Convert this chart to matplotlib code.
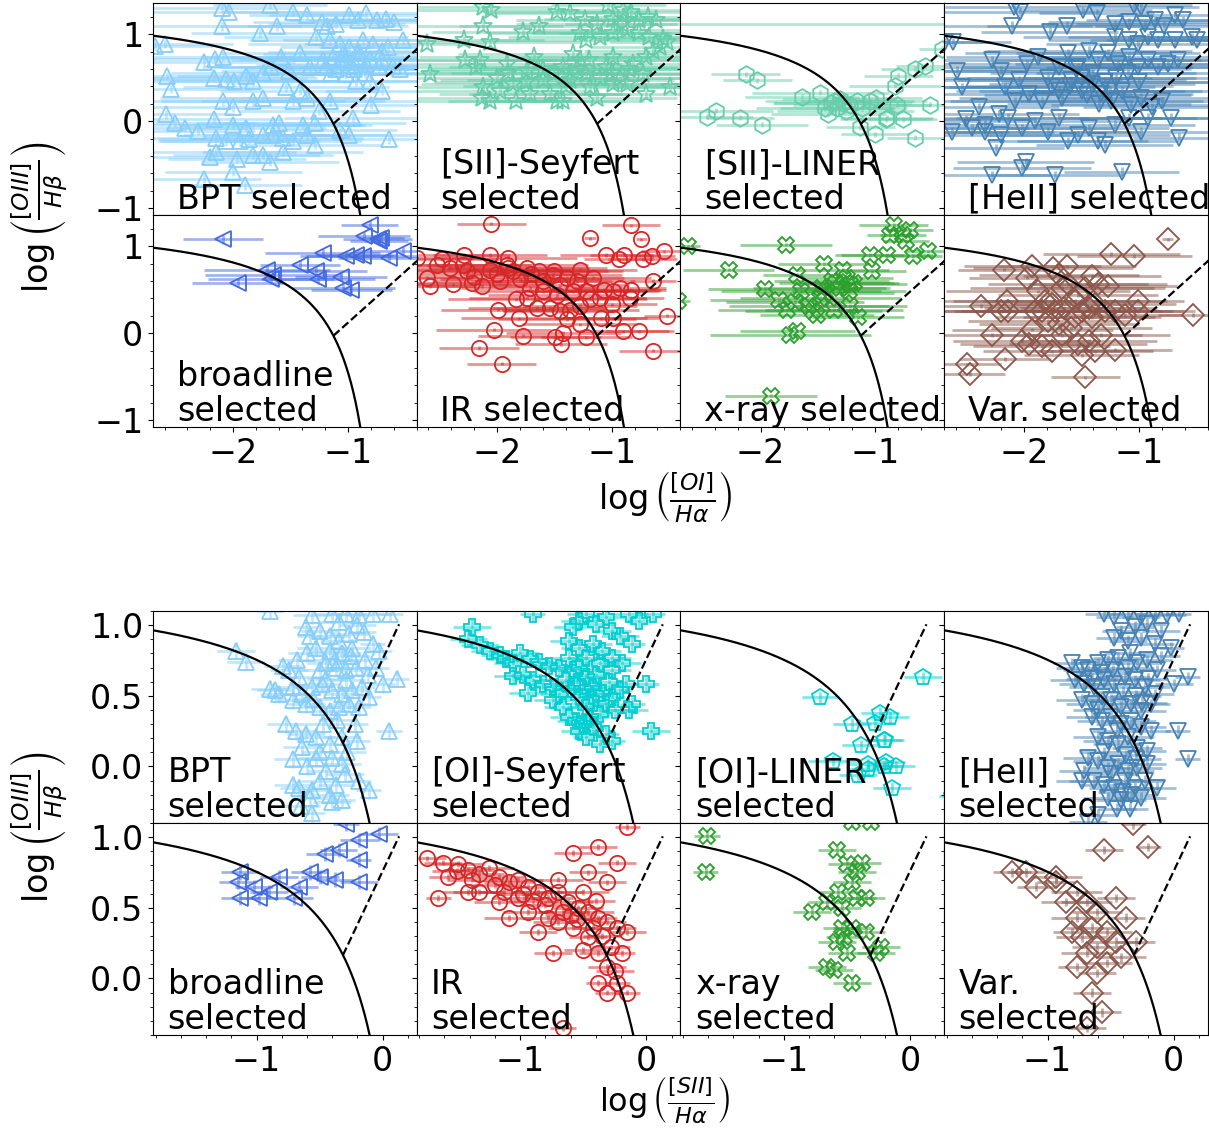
import numpy as np
import matplotlib.pyplot as plt
from matplotlib.colors import to_rgba
from matplotlib.ticker import MultipleLocator, AutoMinorLocator

plt.rcParams['font.size'] = 24

# ---------------- [OI]/Halpha diagram: rows are (x, y, x error) ----------------
oi_bpt = np.array([
    (-2.10, 1.30, 0.6), (-2.04, 1.26, 0.7), (-1.68, 1.34, 0.5), (-1.48, 1.26, 0.6), (-1.36, 1.22, 0.5),
    (-2.10, 1.09, 0.7), (-1.77, 1.01, 0.6), (-1.62, 1.09, 0.5), (-2.68, 0.87, 0.5), (-2.60, 0.89, 0.6),
    (-2.58, 0.52, 0.8), (-2.54, 0.37, 0.7), (-2.59, 0.08, 0.6), (-2.51, -0.02, 0.7), (-2.42, -0.08, 0.6),
    (-2.31, -0.11, 0.5), (-2.26, 0.68, 0.8), (-2.16, 0.72, 0.7), (-2.09, 0.74, 0.6), (-2.17, 0.50, 0.9),
    (-2.06, 0.48, 0.7), (-1.99, 0.46, 0.8), (-1.89, 0.52, 0.6), (-1.83, 0.46, 0.7), (-1.74, 0.56, 0.8),
    (-1.67, 0.62, 0.6), (-1.58, 0.74, 0.7), (-1.51, 0.58, 0.6), (-1.42, 0.79, 0.7), (-1.33, 0.62, 0.8),
    (-1.23, 1.14, 0.6), (-1.18, 1.09, 0.7), (-1.10, 1.12, 0.6), (-0.99, 1.22, 0.7), (-0.91, 1.16, 0.6),
    (-0.84, 1.24, 0.5), (-0.75, 1.16, 0.6), (-0.67, 1.18, 0.5), (-0.60, 1.14, 0.6), (-0.52, 0.93, 0.7),
    (-1.28, 0.97, 0.8), (-1.16, 0.93, 0.7), (-1.07, 0.89, 0.8), (-0.99, 0.85, 0.6), (-0.87, 0.93, 0.7),
    (-0.78, 0.89, 0.6), (-0.70, 0.81, 0.7), (-0.96, 0.70, 0.8), (-0.84, 0.66, 0.9), (-0.73, 0.62, 0.7),
    (-0.61, 0.64, 0.6), (-0.55, 0.60, 0.5), (-1.22, 0.70, 0.8), (-1.13, 0.74, 0.9), (-1.04, 0.77, 0.7),
    (-0.90, 0.74, 0.8), (-0.81, 0.72, 0.7), (-1.19, 0.62, 0.9), (-1.10, 0.60, 0.8), (-1.02, 0.54, 0.7),
    (-0.93, 0.46, 0.8), (-0.81, 0.46, 0.6), (-0.70, 0.35, 0.5), (-0.80, 0.19, 0.4), (-0.96, 0.04, 0.6),
    (-1.07, -0.10, 0.5), (-0.99, -0.16, 0.6), (-0.64, -0.21, 0.5), (-1.25, 0.12, 0.7), (-1.16, 0.23, 0.8),
    (-1.36, 0.27, 0.7), (-1.48, 0.23, 0.8), (-1.54, 0.39, 0.9), (-1.42, 0.35, 0.7), (-2.09, 0.23, 0.8),
    (-2.00, 0.16, 0.7), (-1.83, 0.23, 0.8), (-1.74, 0.27, 0.9), (-2.17, 0.02, 0.6), (-2.00, -0.04, 0.8),
    (-1.89, -0.08, 0.7), (-1.65, -0.04, 0.8), (-1.60, -0.02, 0.7), (-1.39, -0.04, 0.6), (-1.29, -0.02, 0.8),
    (-2.15, -0.19, 0.7), (-2.06, -0.23, 0.6), (-1.94, -0.23, 0.7), (-1.86, -0.21, 0.8), (-1.74, -0.16, 0.7),
    (-1.65, -0.16, 0.6), (-1.57, -0.19, 0.7), (-1.48, -0.23, 0.6), (-1.36, -0.16, 0.7), (-1.29, -0.27, 0.6),
    (-2.20, -0.41, 0.6), (-2.15, -0.35, 0.7), (-1.97, -0.43, 0.6), (-1.83, -0.39, 0.7), (-1.74, -0.39, 0.5),
    (-1.68, -0.47, 0.6), (-1.57, -0.35, 0.7), (-2.26, -0.66, 0.5), (-2.00, -0.58, 0.6), (-1.90, -0.74, 0.5),
    (-1.00, 0.65, 0.8), (-0.95, 0.60, 0.7), (-1.15, 0.55, 0.8), (-0.85, 0.55, 0.7), (-0.70, 0.70, 0.6),
    (-1.05, 0.72, 0.9), (-0.90, 0.80, 0.8), (-0.65, 0.85, 0.6),
])
oi_bpt_x, oi_bpt_y, oi_bpt_xerr = oi_bpt.T

oi_sii_sey = np.array([
    (-2.12, 1.32, 0.6), (-2.05, 1.28, 0.7), (-1.48, 1.26, 0.6), (-1.36, 1.24, 0.7), (-1.03, 1.34, 0.5),
    (-0.90, 1.28, 0.6), (-0.83, 1.26, 0.5), (-2.12, 1.10, 0.7), (-1.77, 1.03, 0.8), (-1.63, 1.09, 0.7),
    (-1.23, 1.16, 0.6), (-1.13, 1.12, 0.7), (-0.99, 1.18, 0.6), (-0.91, 1.12, 0.5), (-0.76, 1.16, 0.6),
    (-0.68, 1.20, 0.5), (-0.61, 1.16, 0.6), (-1.28, 1.01, 0.8), (-1.22, 0.93, 0.9), (-1.10, 0.97, 0.8),
    (-0.99, 1.01, 0.7), (-0.87, 1.05, 0.8), (-0.76, 1.01, 0.7), (-0.67, 0.97, 0.6), (-0.55, 0.95, 0.6),
    (-2.61, 0.89, 0.5), (-2.29, 0.93, 0.7), (-2.06, 0.91, 0.8), (-0.52, 0.91, 0.5), (-2.58, 0.54, 0.6),
    (-2.28, 0.70, 0.8), (-2.18, 0.62, 0.9), (-2.12, 0.39, 0.7), (-2.13, 0.27, 0.6), (-2.06, 0.23, 0.7),
    (-2.00, 0.50, 0.9), (-1.91, 0.66, 1.0), (-1.86, 0.43, 0.8), (-1.83, 0.23, 0.6), (-1.74, 0.58, 0.9),
    (-1.68, 0.74, 1.0), (-1.60, 0.47, 0.9), (-1.54, 0.31, 0.7), (-1.48, 0.23, 0.6), (-1.42, 0.62, 1.0),
    (-1.36, 0.47, 0.9), (-1.34, 0.77, 1.0), (-1.28, 0.70, 0.9), (-1.22, 0.54, 0.9), (-1.19, 0.39, 0.8),
    (-1.13, 0.27, 0.7), (-1.05, 0.62, 0.9), (-0.99, 0.74, 0.8), (-0.93, 0.50, 0.8), (-0.87, 0.43, 0.7),
    (-0.81, 0.66, 0.8), (-0.73, 0.54, 0.7), (-0.70, 0.74, 0.7), (-0.64, 0.81, 0.6), (-0.58, 0.85, 0.6),
    (-0.49, 0.39, 0.5), (-0.70, 0.31, 0.6), (-2.15, 0.70, 0.9), (-1.97, 0.35, 0.8), (-1.71, 0.31, 0.8),
    (-1.42, 0.23, 0.7), (-0.99, 0.43, 0.8), (-1.60, 0.60, 1.0), (-1.50, 0.55, 0.9), (-1.30, 0.60, 0.9),
    (-1.20, 0.70, 0.8), (-1.90, 0.55, 0.9), (-1.75, 0.45, 0.8), (-1.10, 0.50, 0.8), (-1.40, 0.40, 0.9),
    (-1.00, 0.55, 0.7), (-0.85, 0.60, 0.7),
])
oi_sii_sey_x, oi_sii_sey_y, oi_sii_sey_xerr = oi_sii_sey.T

oi_sii_lin = np.array([
    (-0.30, 1.12, 2.5),
    (-2.13, 0.54, 0.3), (-2.03, 0.47, 0.3), (-2.39, 0.12, 0.5), (-2.47, 0.05, 0.4), (-2.18, 0.04, 0.3),
    (-1.99, -0.04, 0.4), (-1.64, 0.28, 0.5), (-1.48, 0.33, 0.6), (-1.44, 0.15, 0.6), (-1.41, 0.08, 0.5),
    (-1.36, 0.23, 0.6), (-1.31, 0.25, 0.5), (-1.26, 0.12, 0.6), (-1.22, 0.19, 0.5), (-1.16, 0.23, 0.5),
    (-1.12, 0.15, 0.4), (-1.05, 0.23, 0.5), (-0.99, 0.27, 0.4), (-1.13, -0.07, 0.3), (-1.00, -0.15, 0.3),
    (-0.91, 0.02, 0.4), (-0.90, 0.04, 0.4), (-0.81, 0.19, 0.3), (-0.76, 0.02, 0.3), (-0.65, -0.19, 0.25),
    (-0.52, 0.19, 0.3), (-0.83, 0.41, 0.4), (-0.80, 0.52, 0.3), (-0.65, 0.60, 0.3), (-0.57, 0.64, 0.25),
    (-0.42, 0.83, 0.2), (-1.39, 0.21, 0.5), (-1.33, 0.15, 0.5), (-1.28, 0.21, 0.6),
])
oi_sii_lin_x, oi_sii_lin_y, oi_sii_lin_xerr = oi_sii_lin.T

oi_heii = np.array([
    (-2.09, 1.32, 0.6), (-2.04, 1.26, 0.7), (-1.49, 1.28, 0.6), (-1.37, 1.24, 0.5), (-1.04, 1.34, 0.5),
    (-0.98, 1.32, 0.5), (-2.11, 1.10, 0.7), (-1.78, 1.03, 0.6), (-1.63, 1.10, 0.7), (-1.21, 1.12, 0.6),
    (-1.09, 1.14, 0.7), (-0.95, 1.12, 0.6), (-0.86, 1.16, 0.6), (-0.69, 1.22, 0.5), (-0.62, 1.16, 0.5),
    (-0.78, 1.10, 0.6), (-2.62, 0.91, 0.5), (-2.69, 0.91, 0.4), (-0.92, 0.97, 0.7), (-0.83, 0.93, 0.6),
    (-0.69, 0.93, 0.6), (-0.54, 0.97, 0.5), (-0.49, 0.93, 0.5), (-1.21, 0.97, 0.8), (-1.09, 0.93, 0.7),
    (-1.01, 0.89, 0.8), (-2.59, 0.58, 0.6), (-2.54, 0.39, 0.6), (-2.63, -0.12, 0.5), (-2.51, 0.02, 0.6),
    (-2.40, 0.16, 0.7), (-2.34, -0.04, 0.6), (-2.22, 0.08, 0.7), (-2.28, 0.70, 0.8), (-2.20, 0.58, 0.8),
    (-2.05, 0.47, 0.9), (-1.98, 0.66, 0.9), (-1.88, 0.74, 0.8), (-1.79, 0.50, 0.9), (-1.70, 0.62, 1.0),
    (-1.62, 0.78, 0.9), (-1.53, 0.62, 1.0), (-1.44, 0.81, 0.9), (-1.36, 0.70, 0.9), (-1.27, 0.78, 0.8),
    (-1.18, 0.66, 0.9), (-1.09, 0.74, 0.8), (-1.01, 0.62, 0.8), (-0.92, 0.70, 0.7), (-0.83, 0.62, 0.7),
    (-0.75, 0.66, 0.6), (-0.66, 0.70, 0.6), (-2.17, 0.39, 0.8), (-2.08, 0.23, 0.7), (-1.96, 0.31, 0.9),
    (-1.85, 0.23, 0.8), (-1.76, 0.39, 0.9), (-1.67, 0.27, 0.9), (-1.59, 0.47, 1.0), (-1.50, 0.35, 0.9),
    (-1.41, 0.43, 0.9), (-1.33, 0.31, 0.8), (-1.24, 0.23, 0.8), (-1.15, 0.35, 0.8), (-1.07, 0.19, 0.7),
    (-0.98, 0.27, 0.7), (-0.89, 0.16, 0.6), (-0.80, 0.23, 0.6), (-0.72, 0.04, 0.5), (-2.14, 0.04, 0.7),
    (-2.02, -0.08, 0.8), (-1.91, 0.00, 0.8), (-1.79, -0.12, 0.8), (-1.70, 0.04, 0.9), (-1.62, -0.23, 0.7),
    (-1.53, -0.16, 0.8), (-1.44, -0.08, 0.7), (-1.36, -0.23, 0.7), (-1.30, -0.27, 0.6), (-1.21, -0.04, 0.7),
    (-1.09, 0.04, 0.6), (-0.98, -0.12, 0.6), (-0.92, 0.04, 0.6), (-0.65, -0.19, 0.4), (-2.25, -0.31, 0.6),
    (-2.20, -0.16, 0.7), (-1.99, -0.47, 0.6), (-2.28, -0.62, 0.5), (-2.02, -0.54, 0.6), (-1.73, -0.62, 0.6),
    (-1.15, -0.58, 0.5), (-2.34, -0.12, 0.6), (-2.46, -0.08, 0.5), (-1.50, 0.50, 1.0), (-1.40, 0.55, 0.9),
    (-1.30, 0.45, 0.9), (-1.20, 0.50, 0.8), (-1.60, 0.40, 0.9), (-1.70, 0.35, 0.9), (-1.35, 0.20, 0.8),
    (-1.25, 0.35, 0.8), (-1.45, 0.30, 0.9), (-1.55, 0.60, 1.0), (-1.10, 0.55, 0.8), (-1.00, 0.45, 0.7),
])
oi_heii_x, oi_heii_y, oi_heii_xerr = oi_heii.T

oi_broad = np.array([
    (-2.09, 1.08, 0.35), (-0.81, 1.25, 0.25), (-0.86, 1.12, 0.40), (-0.74, 1.08, 0.30), (-0.71, 1.10, 0.20),
    (-0.73, 1.06, 0.25), (-0.52, 0.94, 0.40), (-0.64, 0.87, 0.45), (-0.87, 0.89, 0.50), (-1.02, 0.89, 0.40),
    (-0.93, 0.90, 0.35), (-1.22, 0.92, 0.50), (-1.42, 0.79, 0.35), (-1.71, 0.73, 0.55), (-1.65, 0.67, 0.60),
    (-1.67, 0.62, 0.55), (-1.96, 0.58, 0.40), (-1.28, 0.71, 0.45), (-1.26, 0.62, 0.50), (-1.06, 0.65, 0.40),
    (-1.04, 0.52, 0.45), (-0.97, 0.50, 0.35),
])
oi_broad_x, oi_broad_y, oi_broad_xerr = oi_broad.T

oi_ir = np.array([
    (-2.05, 1.26, 0.30), (-0.83, 1.24, 0.25), (-0.74, 1.08, 0.05), (-1.19, 1.09, 0.05), (-2.29, 0.90, 0.40),
    (-2.06, 0.90, 0.50), (-1.90, 0.87, 0.60), (-2.70, 0.87, 0.50), (-2.48, 0.85, 0.50), (-2.61, 0.64, 0.40),
    (-2.58, 0.54, 0.40), (-2.38, 0.56, 0.50), (-2.22, 0.58, 0.60), (-2.13, 0.54, 0.50), (-1.97, 0.60, 0.60),
    (-1.86, 0.71, 0.70), (-1.74, 0.75, 0.70), (-1.63, 0.71, 0.60), (-1.51, 0.67, 0.60), (-1.39, 0.64, 0.50),
    (-1.28, 0.73, 0.50), (-1.16, 0.64, 0.50), (-1.05, 0.90, 0.40), (-0.94, 0.85, 0.30), (-0.89, 0.90, 0.30),
    (-0.73, 0.85, 0.30), (-0.65, 0.89, 0.20), (-0.54, 0.94, 0.20), (-1.07, 0.50, 0.50), (-0.99, 0.48, 0.40),
    (-0.93, 0.52, 0.40), (-0.83, 0.50, 0.30), (-0.84, 0.41, 0.30), (-0.64, 0.60, 0.20), (-1.83, 0.39, 0.60),
    (-1.74, 0.41, 0.50), (-1.65, 0.29, 0.60), (-1.54, 0.29, 0.50), (-1.45, 0.25, 0.50), (-1.36, 0.27, 0.60),
    (-1.28, 0.31, 0.50), (-1.19, 0.39, 0.50), (-1.10, 0.41, 0.40), (-1.00, 0.33, 0.40), (-1.99, 0.27, 0.50),
    (-1.81, 0.17, 0.50), (-1.39, 0.16, 0.60), (-1.28, 0.10, 0.50), (-1.09, 0.17, 0.40), (-0.99, 0.17, 0.40),
    (-0.90, 0.02, 0.40), (-0.76, 0.02, 0.30), (-0.52, 0.20, 0.20), (-2.03, 0.04, 0.50), (-1.77, -0.03, 0.40),
    (-1.49, -0.05, 0.40), (-1.42, 0.00, 0.50), (-1.44, -0.13, 0.40), (-1.22, -0.05, 0.40), (-0.64, -0.20, 0.30),
    (-2.16, -0.17, 0.35), (-1.96, -0.35, 0.30), (-2.52, 0.79, 0.50), (-2.41, 0.75, 0.60), (-2.26, 0.71, 0.60),
    (-2.06, 0.73, 0.70), (-1.91, 0.79, 0.70), (-1.71, 0.52, 0.60), (-1.60, 0.48, 0.60), (-1.48, 0.44, 0.60),
    (-1.34, 0.48, 0.50), (-1.22, 0.48, 0.50), (-2.30, 0.78, 0.60), (-2.00, 0.68, 0.70), (-1.80, 0.62, 0.70),
    (-1.60, 0.60, 0.60), (-1.45, 0.55, 0.60), (-1.30, 0.60, 0.50), (-2.20, 0.65, 0.70), (-1.90, 0.75, 0.70),
    (-1.70, 0.68, 0.60), (-1.50, 0.72, 0.60),
])
oi_ir_x, oi_ir_y, oi_ir_xerr = oi_ir.T

oi_xray = np.array([
    (-2.63, 1.00, 0.10), (-1.78, 1.02, 0.40), (-2.28, 0.73, 0.40), (-1.68, 0.67, 0.30), (-1.45, 0.80, 0.40),
    (-1.96, 0.51, 0.50), (-1.84, 0.38, 0.60), (-1.77, 0.27, 0.60), (-1.65, 0.48, 0.70), (-1.70, 0.36, 0.60),
    (-1.58, 0.31, 0.70), (-1.54, 0.25, 0.60), (-1.51, 0.21, 0.50), (-1.47, 0.52, 0.60), (-1.48, 0.41, 0.70),
    (-1.44, 0.46, 0.60), (-1.38, 0.60, 0.50), (-1.34, 0.58, 0.50), (-1.31, 0.52, 0.40), (-1.28, 0.73, 0.40),
    (-1.25, 0.64, 0.40), (-1.22, 0.56, 0.50), (-1.19, 0.58, 0.40), (-1.23, 0.48, 0.50), (-1.36, 0.27, 0.60),
    (-1.22, 0.31, 0.50), (-1.15, 0.18, 0.40), (-1.05, 0.90, 0.30), (-0.90, 0.90, 0.40), (-1.03, 0.71, 0.30),
    (-0.84, 1.25, 0.30), (-0.87, 1.13, 0.20), (-0.76, 1.13, 0.20), (-0.73, 1.06, 0.20), (-0.70, 1.19, 0.20),
    (-0.67, 0.89, 0.25), (-0.54, 0.94, 0.20), (-1.74, -0.02, 0.70), (-1.68, 0.02, 0.50), (-1.91, -0.72, 0.40),
    (-2.72, 0.37, 0.10),
])
oi_xray_x, oi_xray_y, oi_xray_xerr = oi_xray.T

oi_var = np.array([
    (-0.75, 1.08, 0.05), (-1.24, 0.91, 0.60), (-1.04, 0.89, 0.50), (-2.18, 0.73, 0.40), (-1.98, 0.64, 0.50),
    (-1.93, 0.77, 0.60), (-1.75, 0.75, 0.70), (-1.63, 0.77, 0.60), (-1.70, 0.67, 0.70), (-1.41, 0.66, 0.60),
    (-1.27, 0.54, 0.60), (-2.38, 0.31, 0.50), (-2.15, 0.37, 0.60), (-2.14, 0.25, 0.60), (-2.20, 0.25, 0.50),
    (-1.88, 0.48, 0.80), (-1.82, 0.37, 0.80), (-1.76, 0.33, 0.70), (-1.67, 0.52, 0.80), (-1.62, 0.56, 0.70),
    (-1.53, 0.44, 0.70), (-1.47, 0.52, 0.70), (-1.36, 0.56, 0.60), (-1.85, 0.25, 0.70), (-1.73, 0.25, 0.70),
    (-1.65, 0.29, 0.70), (-1.56, 0.37, 0.80), (-1.50, 0.25, 0.70), (-1.44, 0.29, 0.60), (-1.38, 0.33, 0.70),
    (-1.30, 0.25, 0.60), (-1.21, 0.25, 0.60), (-1.12, 0.21, 0.50), (-1.01, 0.37, 0.40), (-1.01, 0.25, 0.50),
    (-0.53, 0.21, 0.30), (-2.28, -0.02, 0.50), (-1.93, 0.04, 0.70), (-2.02, -0.09, 0.60), (-1.96, -0.13, 0.60),
    (-1.85, -0.15, 0.60), (-1.76, -0.21, 0.60), (-1.67, -0.02, 0.70), (-1.59, 0.06, 0.70), (-1.53, -0.13, 0.60),
    (-1.44, -0.09, 0.60), (-1.38, -0.21, 0.50), (-1.33, -0.02, 0.60), (-1.21, -0.19, 0.50), (-1.50, -0.25, 0.50),
    (-2.17, -0.30, 0.40), (-2.50, -0.36, 0.30), (-2.47, -0.47, 0.30), (-1.47, -0.51, 0.30), (-1.91, 0.25, 0.70),
    (-1.79, 0.14, 0.70), (-1.70, 0.10, 0.70), (-1.56, 0.18, 0.70), (-1.41, 0.18, 0.60),
])
oi_var_x, oi_var_y, oi_var_xerr = oi_var.T

# ---------------- [SII]/Halpha diagram: rows are (x, y, x error) ----------------
sii_bpt = np.array([
    (-1.16, 0.82, 0.15), (-1.08, 0.74, 0.15), (-0.89, 1.10, 0.10), (-0.56, 1.07, 0.15), (-0.40, 1.08, 0.15),
    (-0.29, 1.08, 0.15), (-0.19, 1.07, 0.10), (-0.08, 1.08, 0.15), (0.06, 1.08, 0.10), (0.11, 0.62, 0.10),
    (0.05, 0.25, 0.10), (0.00, 0.58, 0.10), (-0.08, 0.87, 0.10), (-0.03, 0.82, 0.10), (-0.14, 0.75, 0.15),
    (-0.21, 0.70, 0.15), (-0.29, 0.68, 0.15), (-0.37, 0.70, 0.15), (-0.45, 0.73, 0.15), (-0.50, 0.68, 0.15),
    (-0.42, 0.92, 0.15), (-0.35, 0.89, 0.15), (-0.27, 0.94, 0.15), (-0.24, 0.84, 0.15), (-0.32, 0.80, 0.15),
    (-0.42, 0.82, 0.15), (-0.53, 0.84, 0.15), (-0.58, 0.92, 0.10), (-0.61, 0.99, 0.10), (-0.50, 0.96, 0.15),
    (-0.79, 0.71, 0.15), (-0.74, 0.68, 0.15), (-0.89, 0.55, 0.15), (-0.82, 0.51, 0.15), (-0.71, 0.56, 0.15),
    (-0.64, 0.51, 0.15), (-0.56, 0.56, 0.15), (-0.48, 0.58, 0.15), (-0.40, 0.54, 0.15), (-0.32, 0.51, 0.15),
    (-0.24, 0.54, 0.15), (-0.16, 0.56, 0.10), (-0.11, 0.49, 0.10), (-0.19, 0.42, 0.10), (-0.27, 0.44, 0.15),
    (-0.35, 0.42, 0.15), (-0.42, 0.39, 0.15), (-0.50, 0.42, 0.15), (-0.61, 0.44, 0.15), (-0.71, 0.47, 0.15),
    (-0.77, 0.30, 0.15), (-0.69, 0.25, 0.15), (-0.61, 0.23, 0.15), (-0.53, 0.21, 0.15), (-0.42, 0.16, 0.15),
    (-0.32, 0.21, 0.15), (-0.20, 0.18, 0.10), (-0.64, 0.14, 0.15), (-0.71, 0.05, 0.15), (-0.53, 0.06, 0.15),
    (-0.40, 0.06, 0.15), (-0.32, 0.02, 0.15), (-0.45, -0.03, 0.15), (-0.50, -0.10, 0.15), (-0.56, -0.17, 0.15),
    (-0.37, -0.13, 0.15), (-0.66, -0.15, 0.15), (-0.71, -0.13, 0.15), (-0.58, -0.22, 0.15), (-0.42, -0.20, 0.15),
    (-0.32, -0.24, 0.10), (-0.11, -0.17, 0.10), (-0.19, -0.10, 0.10), (-0.56, -0.33, 0.10), (-0.85, 0.54, 0.15),
    (-0.66, 0.63, 0.15), (-0.29, 0.61, 0.15), (-0.60, 0.80, 0.15), (-0.45, 0.62, 0.15), (-0.38, 0.75, 0.15),
    (-0.25, 0.78, 0.15), (-0.15, 0.95, 0.10), (-0.05, 0.70, 0.10), (-0.55, 0.48, 0.15), (-0.47, 0.30, 0.15),
    (-0.36, 0.33, 0.15), (-0.28, 0.10, 0.15), (-0.60, 0.00, 0.15), (-0.50, 0.10, 0.15), (-0.40, -0.25, 0.15),
    (-0.65, -0.28, 0.15), (-0.30, -0.05, 0.15), (-0.22, 0.30, 0.10), (-0.12, 0.65, 0.10), (-0.68, 0.75, 0.15),
    (-0.20, 1.00, 0.15), (-0.35, 1.02, 0.15),
])
sii_bpt_x, sii_bpt_y, sii_bpt_xerr = sii_bpt.T

sii_oi_sey = np.array([
    (-1.38, 0.99, 0.15), (-1.41, 0.90, 0.15), (-1.32, 0.86, 0.15), (-1.24, 0.82, 0.15), (-1.16, 0.79, 0.15),
    (-1.11, 0.76, 0.15), (-1.06, 0.73, 0.15), (-1.00, 0.80, 0.15), (-0.92, 0.76, 0.15), (-0.85, 0.74, 0.15),
    (-0.77, 0.71, 0.15), (-0.94, 0.52, 0.15), (-1.06, 0.64, 0.15), (-0.98, 0.65, 0.15), (-0.90, 0.61, 0.15),
    (-0.82, 0.58, 0.15), (-0.74, 0.56, 0.15), (-0.69, 0.51, 0.15), (-0.64, 0.61, 0.15), (-0.58, 0.68, 0.15),
    (-0.53, 0.70, 0.15), (-0.48, 0.63, 0.15), (-0.42, 0.56, 0.15), (-0.74, 0.47, 0.15), (-0.66, 0.42, 0.15),
    (-0.61, 0.35, 0.15), (-0.56, 0.32, 0.15), (-0.53, 0.25, 0.15), (-0.48, 0.21, 0.10), (-0.42, 0.28, 0.10),
    (-0.37, 0.37, 0.10), (-0.32, 0.44, 0.10), (-0.27, 0.49, 0.10), (-0.21, 0.54, 0.10), (-0.16, 0.58, 0.10),
    (-0.14, 0.40, 0.15), (-0.11, 0.44, 0.10), (0.00, 0.58, 0.10), (0.04, 0.25, 0.15), (-0.37, 0.16, 0.10),
    (-0.27, 0.18, 0.10), (-0.32, 0.23, 0.10), (-0.53, 0.49, 0.15), (-0.48, 0.42, 0.15), (-0.40, 0.51, 0.15),
    (-0.58, 0.99, 0.15), (-0.53, 1.03, 0.15), (-0.48, 1.08, 0.15), (-0.40, 1.01, 0.15), (-0.32, 1.06, 0.15),
    (-0.27, 0.96, 0.15), (-0.21, 0.92, 0.15), (-0.14, 1.08, 0.15), (-0.06, 1.03, 0.10), (0.05, 1.08, 0.10),
    (-0.61, 0.89, 0.15), (-0.53, 0.84, 0.15), (-0.42, 0.87, 0.15), (-0.35, 0.82, 0.15), (-0.27, 0.77, 0.15),
    (-0.19, 0.73, 0.15), (-0.11, 0.87, 0.10), (-0.48, 0.77, 0.15), (-0.37, 0.73, 0.15), (-0.27, 0.68, 0.15),
    (-0.61, 0.77, 0.15), (-0.69, 0.70, 0.15), (-0.90, 1.08, 0.10), (-0.50, 0.55, 0.15), (-0.45, 0.45, 0.15),
    (-0.55, 0.60, 0.15), (-0.40, 0.65, 0.15), (-0.60, 0.55, 0.15), (-0.30, 0.60, 0.15), (-0.35, 0.52, 0.15),
    (-0.45, 0.35, 0.15), (-0.25, 0.40, 0.15), (-0.50, 0.30, 0.15),
])
sii_oi_sey_x, sii_oi_sey_y, sii_oi_sey_xerr = sii_oi_sey.T

sii_oi_lin = np.array([
    (-0.71, 0.49, 0.15), (0.10, 0.63, 0.15), (-0.46, 0.30, 0.15), (-0.39, 0.15, 0.15), (-0.24, 0.38, 0.15),
    (-0.16, 0.35, 0.15), (-0.28, 0.31, 0.15), (-0.21, 0.19, 0.15), (-0.20, 0.19, 0.15), (-0.61, 0.04, 0.20),
    (-0.41, -0.06, 0.15), (-0.33, 0.02, 0.15), (-0.33, -0.02, 0.15), (-0.21, 0.00, 0.15), (-0.19, 0.03, 0.15),
    (-0.11, 0.00, 0.15), (-0.14, -0.15, 0.15), (0.33, -0.21, 0.10),
])
sii_oi_lin_x, sii_oi_lin_y, sii_oi_lin_xerr = sii_oi_lin.T

sii_heii = np.array([
    (-0.55, 1.08, 0.15), (-0.47, 1.06, 0.15), (-0.36, 1.08, 0.15), (-0.26, 1.06, 0.15), (-0.15, 1.08, 0.15),
    (-0.05, 1.07, 0.15), (0.04, 1.08, 0.10), (-0.42, 0.96, 0.15), (-0.31, 0.99, 0.15), (-0.21, 1.01, 0.15),
    (-0.10, 0.96, 0.15), (-0.47, 0.91, 0.15), (-0.36, 0.89, 0.15), (-0.26, 0.91, 0.15), (-0.15, 0.87, 0.15),
    (-0.02, 0.84, 0.10), (0.11, 0.63, 0.10), (0.00, 0.58, 0.15), (-0.81, 0.73, 0.15), (-0.73, 0.70, 0.20),
    (-0.68, 0.68, 0.20), (-0.60, 0.73, 0.20), (-0.52, 0.75, 0.20), (-0.44, 0.77, 0.20), (-0.36, 0.70, 0.20),
    (-0.29, 0.73, 0.20), (-0.21, 0.75, 0.20), (-0.13, 0.68, 0.15), (-0.78, 0.61, 0.20), (-0.71, 0.58, 0.20),
    (-0.63, 0.56, 0.20), (-0.55, 0.61, 0.20), (-0.47, 0.58, 0.20), (-0.39, 0.63, 0.20), (-0.31, 0.61, 0.20),
    (-0.23, 0.56, 0.20), (-0.15, 0.51, 0.15), (-0.73, 0.47, 0.20), (-0.65, 0.44, 0.20), (-0.57, 0.49, 0.20),
    (-0.50, 0.47, 0.20), (-0.42, 0.42, 0.20), (-0.34, 0.44, 0.20), (-0.26, 0.39, 0.20), (-0.18, 0.44, 0.15),
    (-0.65, 0.35, 0.20), (-0.57, 0.32, 0.20), (-0.50, 0.35, 0.20), (-0.42, 0.30, 0.20), (-0.34, 0.32, 0.20),
    (-0.26, 0.28, 0.20), (-0.18, 0.25, 0.15), (0.03, 0.25, 0.10), (-0.60, 0.21, 0.20), (-0.52, 0.18, 0.20),
    (-0.44, 0.16, 0.20), (-0.36, 0.21, 0.20), (-0.29, 0.13, 0.20), (-0.21, 0.11, 0.15), (0.11, 0.05, 0.10),
    (-0.68, 0.06, 0.20), (-0.60, 0.04, 0.20), (-0.52, -0.01, 0.20), (-0.44, 0.02, 0.20), (-0.36, -0.03, 0.20),
    (-0.29, -0.01, 0.20), (-0.21, 0.02, 0.15), (-0.71, -0.03, 0.20), (-0.63, -0.10, 0.20), (-0.55, -0.13, 0.20),
    (-0.47, -0.15, 0.20), (-0.39, -0.10, 0.20), (-0.31, -0.15, 0.20), (-0.23, -0.10, 0.15), (-0.13, -0.15, 0.15),
    (-0.73, -0.10, 0.20), (-0.52, -0.22, 0.20), (-0.42, -0.24, 0.20), (-0.34, -0.20, 0.20), (-0.26, -0.22, 0.20),
    (-0.68, -0.39, 0.15), (-0.60, -0.34, 0.15), (-0.58, 0.66, 0.20), (-0.48, 0.68, 0.20), (-0.40, 0.53, 0.20),
    (-0.30, 0.50, 0.20), (-0.60, 0.40, 0.20), (-0.45, 0.25, 0.20), (-0.38, 0.08, 0.20), (-0.55, 0.10, 0.20),
    (-0.50, -0.05, 0.20), (-0.40, -0.18, 0.20), (-0.30, 0.05, 0.20), (-0.25, 0.45, 0.20), (-0.20, 0.62, 0.15),
    (-0.65, 0.62, 0.20), (-0.35, 0.80, 0.20), (-0.10, 0.78, 0.15), (-0.45, -0.30, 0.15), (-0.35, -0.30, 0.15),
])
sii_heii_x, sii_heii_y, sii_heii_xerr = sii_heii.T

sii_broad = np.array([
    (-0.29, 1.09, 0.10), (-0.03, 1.02, 0.15), (-0.19, 0.98, 0.15), (-0.35, 0.91, 0.15), (-0.46, 0.88, 0.15),
    (-0.19, 0.84, 0.10), (-0.58, 0.75, 0.15), (-0.38, 0.70, 0.15), (-0.19, 0.68, 0.15), (-1.13, 0.75, 0.15),
    (-0.82, 0.72, 0.15), (-1.15, 0.68, 0.15), (-1.02, 0.65, 0.15), (-0.66, 0.65, 0.15), (-0.90, 0.61, 0.15),
    (-1.13, 0.57, 0.15), (-0.98, 0.57, 0.15), (-0.70, 0.57, 0.15), (-0.50, 0.72, 0.15),
])
sii_broad_x, sii_broad_y, sii_broad_xerr = sii_broad.T

sii_ir = np.array([
    (-1.74, 0.85, 0.15), (-1.61, 0.82, 0.15), (-1.49, 0.81, 0.20), (-1.41, 0.77, 0.20), (-1.33, 0.74, 0.20),
    (-1.25, 0.78, 0.20), (-1.17, 0.72, 0.20), (-1.09, 0.68, 0.20), (-1.02, 0.70, 0.20), (-0.94, 0.65, 0.20),
    (-0.86, 0.61, 0.20), (-0.78, 0.57, 0.20), (-0.70, 0.61, 0.20), (-0.62, 0.54, 0.20), (-0.54, 0.50, 0.20),
    (-0.46, 0.47, 0.20), (-0.38, 0.43, 0.15), (-0.31, 0.40, 0.15), (-0.23, 0.36, 0.15), (-0.15, 0.33, 0.15),
    (-1.65, 0.57, 0.10), (-1.41, 0.61, 0.20), (-1.17, 0.54, 0.20), (-0.94, 0.47, 0.20), (-0.70, 0.40, 0.20),
    (-0.46, 0.29, 0.15), (-0.38, 0.18, 0.15), (-0.31, 0.08, 0.15), (-0.23, -0.03, 0.10), (-0.38, -0.03, 0.10),
    (-0.31, -0.10, 0.10), (-0.15, -0.10, 0.10), (-0.74, 0.18, 0.15), (-0.86, 0.33, 0.15), (-0.58, 0.89, 0.15),
    (-0.38, 0.93, 0.15), (-0.23, 0.82, 0.15), (-0.46, 0.75, 0.15), (-0.31, 0.68, 0.15), (-0.19, 0.18, 0.10),
    (-0.15, 1.07, 0.10), (-0.66, -0.35, 0.10), (-1.33, 0.61, 0.20), (-1.09, 0.43, 0.20), (-0.78, 0.43, 0.20),
    (-0.50, 0.61, 0.20), (-1.13, 0.61, 0.20), (-1.57, 0.72, 0.15), (-1.02, 0.57, 0.20), (-0.58, 0.36, 0.20),
    (-1.50, 0.76, 0.20), (-1.20, 0.66, 0.20), (-0.98, 0.60, 0.20), (-0.80, 0.52, 0.20), (-0.66, 0.47, 0.20),
    (-0.55, 0.42, 0.20), (-0.42, 0.36, 0.15), (-0.35, 0.30, 0.15), (-0.28, 0.22, 0.15), (-1.38, 0.70, 0.20),
    (-0.90, 0.55, 0.20), (-0.60, 0.45, 0.20), (-0.50, 0.20, 0.15), (-0.25, 0.05, 0.15), (-0.70, 0.70, 0.20),
    (-0.40, 0.55, 0.15),
])
sii_ir_x, sii_ir_y, sii_ir_xerr = sii_ir.T

sii_xray = np.array([
    (-1.61, 1.01, 0.10), (-1.62, 0.75, 0.10), (-0.58, 0.91, 0.15), (-0.50, 0.81, 0.15), (-0.46, 0.68, 0.15),
    (-0.42, 0.57, 0.15), (-0.54, 0.50, 0.15), (-0.46, 0.36, 0.15), (-0.58, 0.26, 0.15), (-0.66, 0.54, 0.15),
    (-0.54, 0.36, 0.15), (-0.35, 0.33, 0.15), (-0.50, 0.18, 0.15), (-0.60, 0.06, 0.15), (-0.27, 0.18, 0.15),
    (-0.46, -0.03, 0.15), (-0.35, 0.57, 0.15), (-0.57, 0.61, 0.15), (-0.42, 0.75, 0.15), (-0.46, 1.11, 0.10),
    (-0.31, 1.11, 0.10), (-0.38, 0.82, 0.15), (-0.52, 0.29, 0.15), (-0.66, 0.08, 0.15), (-0.23, 0.22, 0.15),
    (-0.78, 0.47, 0.15),
])
sii_xray_x, sii_xray_y, sii_xray_xerr = sii_xray.T

sii_var = np.array([
    (-0.55, 0.91, 0.15), (-0.32, 1.09, 0.10), (-0.20, 0.93, 0.10), (-1.28, 0.75, 0.15), (-1.17, 0.75, 0.15),
    (-0.93, 0.72, 0.20), (-1.09, 0.65, 0.15), (-0.77, 0.61, 0.20), (-0.85, 0.54, 0.20), (-0.69, 0.54, 0.20),
    (-0.61, 0.47, 0.20), (-0.77, 0.43, 0.20), (-0.65, 0.36, 0.20), (-0.53, 0.33, 0.20), (-0.73, 0.29, 0.20),
    (-0.46, 0.26, 0.20), (-0.61, 0.22, 0.20), (-0.69, 0.18, 0.20), (-0.53, 0.11, 0.20), (-0.42, 0.15, 0.20),
    (-0.77, 0.08, 0.15), (-0.61, 0.04, 0.15), (-0.65, -0.10, 0.15), (-0.57, -0.24, 0.15), (-0.69, -0.35, 0.15),
    (-0.30, 0.26, 0.15), (-0.81, 0.33, 0.15), (-0.93, 0.68, 0.15), (-0.46, 0.57, 0.15), (-0.38, 0.43, 0.15),
])
sii_var_x, sii_var_y, sii_var_xerr = sii_var.T

# (label, colour, marker, marker size, x, y, xerr, yerr)
oi_panels = [
    ('BPT selected', 'lightskyblue', '^', 12, oi_bpt_x, oi_bpt_y, oi_bpt_xerr, 0.05),
    ('[SII]-Seyfert\nselected', 'mediumaquamarine', '*', 14, oi_sii_sey_x, oi_sii_sey_y, oi_sii_sey_xerr, 0.05),
    ('[SII]-LINER\nselected', 'mediumaquamarine', 'h', 12, oi_sii_lin_x, oi_sii_lin_y, oi_sii_lin_xerr, 0.03),
    ('[HeII] selected', 'steelblue', 'v', 12, oi_heii_x, oi_heii_y, oi_heii_xerr, 0.05),
    ('broadline\nselected', 'royalblue', '<', 12, oi_broad_x, oi_broad_y, oi_broad_xerr, 0.05),
    ('IR selected', 'tab:red', 'o', 11, oi_ir_x, oi_ir_y, oi_ir_xerr, 0.02),
    ('x-ray selected', 'tab:green', 'X', 12, oi_xray_x, oi_xray_y, oi_xray_xerr, 0.02),
    ('Var. selected', 'tab:brown', 'D', 11, oi_var_x, oi_var_y, oi_var_xerr, 0.02),
]
sii_panels = [
    ('BPT\nselected', 'lightskyblue', '^', 12, sii_bpt_x, sii_bpt_y, sii_bpt_xerr, 0.06),
    ('[OI]-Seyfert\nselected', 'darkturquoise', 'P', 12, sii_oi_sey_x, sii_oi_sey_y, sii_oi_sey_xerr, 0.05),
    ('[OI]-LINER\nselected', 'darkturquoise', 'p', 12, sii_oi_lin_x, sii_oi_lin_y, sii_oi_lin_xerr, 0.04),
    ('[HeII]\nselected', 'steelblue', 'v', 12, sii_heii_x, sii_heii_y, sii_heii_xerr, 0.04),
    ('broadline\nselected', 'royalblue', '<', 12, sii_broad_x, sii_broad_y, sii_broad_xerr, 0.05),
    ('IR\nselected', 'tab:red', 'o', 11, sii_ir_x, sii_ir_y, sii_ir_xerr, 0.02),
    ('x-ray\nselected', 'tab:green', 'X', 12, sii_xray_x, sii_xray_y, sii_xray_xerr, 0.03),
    ('Var.\nselected', 'tab:brown', 'D', 11, sii_var_x, sii_var_y, sii_var_xerr, 0.03),
]


def kewley_oi(x):
    return 0.73 / (x + 0.59) + 1.33


def seyfert_liner_oi(x):
    return 1.18 * x + 1.30


def kewley_sii(x):
    return 0.72 / (x - 0.32) + 1.30


def seyfert_liner_sii(x):
    return 1.89 * x + 0.76


def crossing(f, g, lo, hi):
    xs = np.linspace(lo, hi, 20001)
    d = f(xs) - g(xs)
    return xs[np.argmin(np.abs(d))]


def draw_group(gs, panels, xlim, ylim, kew, kew_max, sl, sl_end, ymajor, text_x):
    x0 = crossing(kew, sl, xlim[0], kew_max - 0.01)
    for i, (label, col, mk, ms, x, y, xerr, yerr) in enumerate(panels):
        r, c = divmod(i, 4)
        ax = fig.add_subplot(gs[r, c])
        ax.errorbar(x, y, xerr=xerr, yerr=yerr, fmt=mk, ms=ms, mfc='none', mec=col, mew=1.3,
                    ecolor=to_rgba(col, 0.5), elinewidth=2, capsize=0, zorder=2)
        xk = np.linspace(xlim[0] - 0.5, kew_max - 0.005, 2000)
        ax.plot(xk, kew(xk), color='k', lw=1.6, zorder=3)
        xs = np.linspace(x0, sl_end, 50)
        ax.plot(xs, sl(xs), color='k', ls='--', lw=1.6, zorder=3)
        ax.set_xlim(xlim)
        ax.set_ylim(ylim)
        ax.xaxis.set_major_locator(MultipleLocator(1))
        ax.yaxis.set_major_locator(MultipleLocator(ymajor))
        ax.xaxis.set_minor_locator(AutoMinorLocator(5))
        ax.yaxis.set_minor_locator(AutoMinorLocator(5))
        ax.tick_params(labelsize=24)
        if c > 0:
            ax.tick_params(axis='y', which='both', labelleft=False)
        if r == 0:
            ax.tick_params(axis='x', which='both', bottom=False, labelbottom=False)
        ax.text(text_x, 0.03, label, transform=ax.transAxes, fontsize=24,
                ha='left', va='baseline', linespacing=1.05, zorder=5)


fig = plt.figure(figsize=(12.09, 11.28), dpi=100)
gs_oi = fig.add_gridspec(2, 4, left=0.1266, right=0.999, top=0.9973, bottom=0.6215,
                         wspace=0, hspace=0)
gs_sii = fig.add_gridspec(2, 4, left=0.1266, right=0.999, top=1 - 611 / 1128, bottom=1 - 1035 / 1128,
                          wspace=0, hspace=0)

draw_group(gs_oi, oi_panels, (-2.7, -0.4), (-1.08, 1.36), kewley_oi, -0.59,
           seyfert_liner_oi, 0.0, 1, 0.09)
draw_group(gs_sii, sii_panels, (-1.82, 0.27), (-0.4, 1.1), kewley_sii, 0.32,
           seyfert_liner_sii, 0.13, 0.5, 0.055)

ylab = r'$\log\left(\frac{[OIII]}{H\beta}\right)$'
fig.text(0.033, 1 - 217 / 1128, ylab, rotation=90, ha='center', va='center', fontsize=24)
fig.text(0.033, 1 - 827 / 1128, ylab, rotation=90, ha='center', va='center', fontsize=24)
fig.text(0.55, 1 - 497 / 1128, r'$\log\left(\frac{[OI]}{H\alpha}\right)$',
         ha='center', va='center', fontsize=24)
fig.text(0.55, 2 / 1128, r'$\log\left(\frac{[SII]}{H\alpha}\right)$',
         ha='center', va='bottom', fontsize=23)

fig.savefig('out.png', dpi=100)
